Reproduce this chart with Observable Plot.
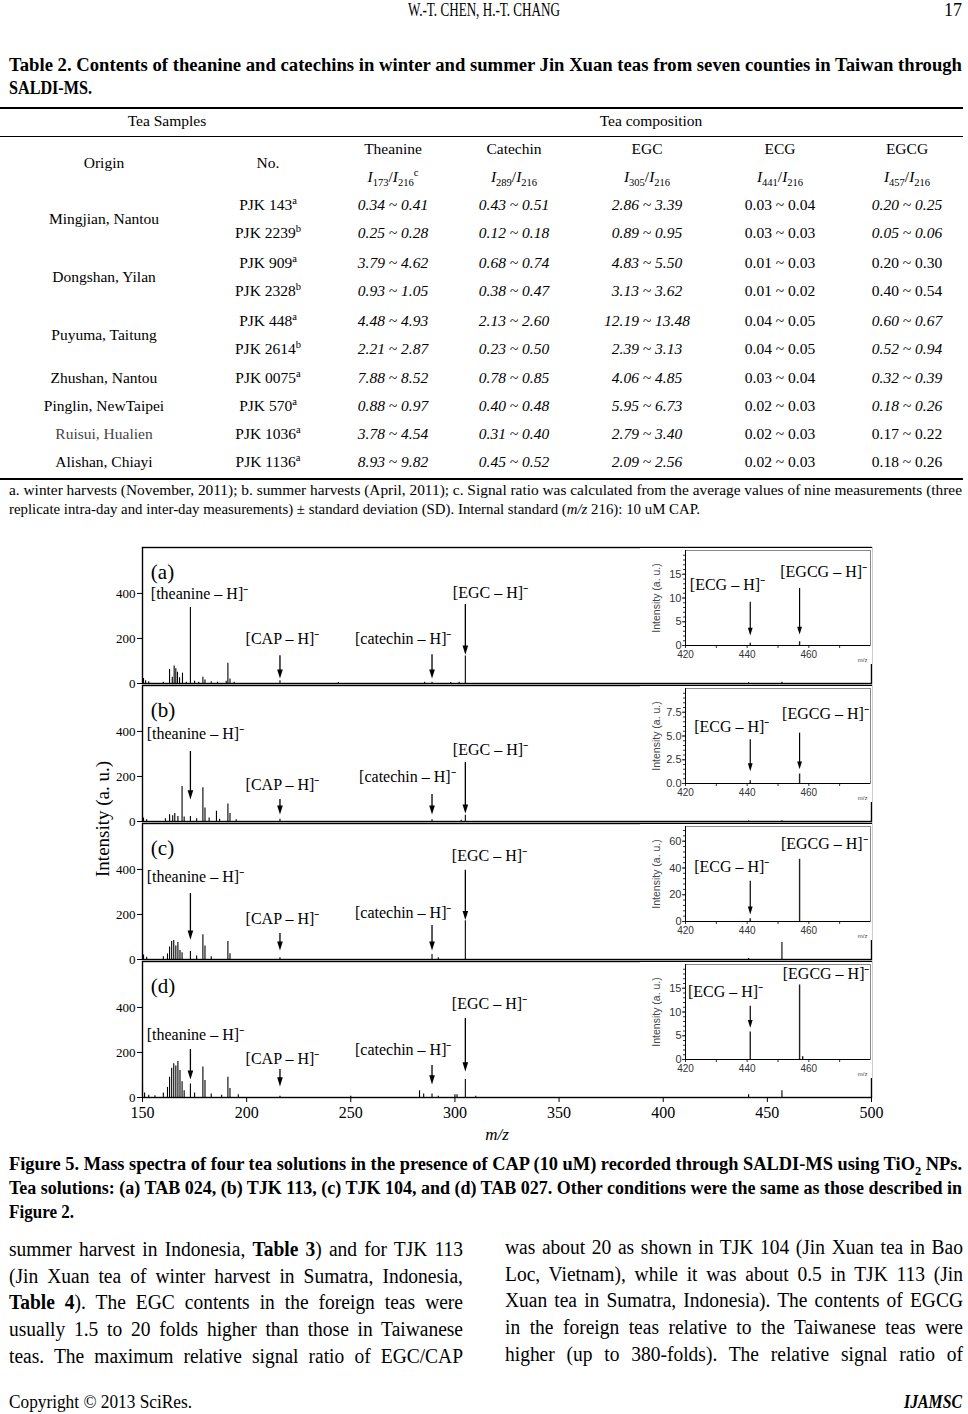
<!DOCTYPE html>
<html><head><meta charset="utf-8">
<script src="https://cdn.jsdelivr.net/npm/d3@7"></script>
<script src="https://cdn.jsdelivr.net/npm/@observablehq/plot@0.6"></script>
<style>
html,body{margin:0;padding:0;background:#fff}
body{width:968px;height:1414px;position:relative;overflow:hidden;font-family:"Liberation Serif","Times New Roman",serif;color:#000}
.t{position:absolute;white-space:nowrap}
.t sup,.t sub{line-height:0;font-size:68%}
.rule{position:absolute;background:#000;left:0;width:963px}
</style></head><body>
<script>
// ---------------- DATA ----------------
const panels = ["a", "b", "c", "d"];
// main spectra: [m/z, intensity]
const peaksA = [[150.5,22],[151.5,12],[153,8],[160,6],[163,62],[164.3,28],[165.2,78],[166,66],[166.8,50],[167.8,25],[169.2,46],[171,6],[173,338],[175,10],[177,6],[179,28],[180,16],[183,8],[186,6],[190.2,10],[191,90],[192,20],[194,6],[216,12],[244,4],[285.5,5],[289,6],[298,4],[302,5],[305,122],[441,3],[457,5]];
const peaksB = [[150.5,15],[152,8],[161,12],[163,30],[164.5,25],[165.5,35],[167,22],[169,155],[170,20],[173,22],[176,12],[179,150],[180,60],[182,15],[185.5,45],[187,10],[191,78],[192,35],[195,8],[216,10],[289,8],[303,6],[305,28],[441,2],[457,3]];
const peaksC = [[150.5,20],[152,10],[160,12],[162,25],[163,55],[164,80],[165,84],[166,60],[167,75],[168,40],[169,30],[173,35],[176,15],[179,110],[180,60],[183,12],[191,80],[192,25],[216,8],[289,22],[292,8],[305,172],[441,4],[457,75]];
const peaksD = [[150,55],[151,20],[153,10],[156,8],[160,20],[162,45],[163,90],[164,130],[165,150],[166,140],[167,160],[168,120],[169,70],[170,30],[173,60],[175,20],[179,135],[180,75],[183,15],[188,10],[191,90],[192,40],[196,12],[216,6],[250,5],[283,30],[285,15],[289,15],[292,6],[300,12],[301,12],[305,80],[310,5],[441,12],[457,30]];
// arrows: [m/z, top, tip]
const arrowsA = [[216,123,22],[289,128,22],[305,351,128]];
const arrowsB = [[173,311,98],[216,98,31],[289,120,31],[305,262,35]];
const arrowsC = [[173,293,88],[216,116,40],[289,151,40],[305,396,175]];
const arrowsD = [[173,213,80],[216,124,49],[289,142,58],[305,351,116]];
// labels: [text, m/z start, intensity]
const labelsA = [["[theanine – H]⁻",154,400],["[CAP – H]⁻",199.5,200],["[catechin – H]⁻",252,200],["[EGC – H]⁻",299,404]];
const labelsB = [["[theanine – H]⁻",152,387],["[CAP – H]⁻",199.5,164],["[catechin – H]⁻",254,196],["[EGC – H]⁻",299,316]];
const labelsC = [["[theanine – H]⁻",152,369],["[CAP – H]⁻",199.5,182],["[catechin – H]⁻",252,209],["[EGC – H]⁻",298.5,458]];
const labelsD = [["[theanine – H]⁻",152,280],["[CAP – H]⁻",199.5,173],["[catechin – H]⁻",252,213],["[EGC – H]⁻",298.5,418]];
const panelTags = ["(a)","(b)","(c)","(d)"];
const xTicks = [150,200,250,300,350,400,450,500];
const yTicks = [0,200,400];

// insets (m/z 420-480)
const insetYMax = [20, 10, 71, 20];
const insetYTicks = [[0,5,10,15],[0,2.5,5,7.5],[0,20,40,60],[0,5,10,15]];
const insetPeaksA = [[441,0.5],[457,0.8]];
const insetPeaksB = [[441,0.3],[457,1.0]];
const insetPeaksC = [[441,2],[457,46.5]];
const insetPeaksD = [[441,5.8],[457,15.7],[458,0.6]];
const insetArrowsA = [[441,9.1,2.1],[457,12,2.3]];
const insetArrowsB = [[441,4.6,1.3],[457,5.3,1.5]];
const insetArrowsC = [[441,30,5.3]];
const insetArrowsD = [[441,11.2,6.7]];
const insetLabelsA = [["[ECG – H]⁻",433.6,12.7],["[EGCG – H]⁻",464.8,15.4]];
const insetLabelsB = [["[ECG – H]⁻",435,6.0],["[EGCG – H]⁻",465.4,7.3]];
const insetLabelsC = [["[ECG – H]⁻",435,40.5],["[EGCG – H]⁻",465,58]];
const insetLabelsD = [["[ECG – H]⁻",433,14.3],["[EGCG – H]⁻",465.6,18]];
const insetXTicks = [420,440,460];

// table
const origins = ["Mingjian, Nantou","Dongshan, Yilan","Puyuma, Taitung","Zhushan, Nantou","Pinglin, NewTaipei","Ruisui, Hualien","Alishan, Chiayi"];
const originSpans = [[0,1],[2,3],[4,5],[6,6],[7,7],[8,8],[9,9]];
const sampleIds = ["PJK 143","PJK 2239","PJK 909","PJK 2328","PJK 448","PJK 2614","PJK 0075","PJK 570","PJK 1036","PJK 1136"];
const harvest = ["a","b","a","b","a","b","a","a","a","a"];
const theanine = ["0.34 ~ 0.41","0.25 ~ 0.28","3.79 ~ 4.62","0.93 ~ 1.05","4.48 ~ 4.93","2.21 ~ 2.87","7.88 ~ 8.52","0.88 ~ 0.97","3.78 ~ 4.54","8.93 ~ 9.82"];
const catechin = ["0.43 ~ 0.51","0.12 ~ 0.18","0.68 ~ 0.74","0.38 ~ 0.47","2.13 ~ 2.60","0.23 ~ 0.50","0.78 ~ 0.85","0.40 ~ 0.48","0.31 ~ 0.40","0.45 ~ 0.52"];
const egc = ["2.86 ~ 3.39","0.89 ~ 0.95","4.83 ~ 5.50","3.13 ~ 3.62","12.19 ~ 13.48","2.39 ~ 3.13","4.06 ~ 4.85","5.95 ~ 6.73","2.79 ~ 3.40","2.09 ~ 2.56"];
const ecg = ["0.03 ~ 0.04","0.03 ~ 0.03","0.01 ~ 0.03","0.01 ~ 0.02","0.04 ~ 0.05","0.04 ~ 0.05","0.03 ~ 0.04","0.02 ~ 0.03","0.02 ~ 0.03","0.02 ~ 0.03"];
const egcg = ["0.20 ~ 0.25","0.05 ~ 0.06","0.20 ~ 0.30","0.40 ~ 0.54","0.60 ~ 0.67","0.52 ~ 0.94","0.32 ~ 0.39","0.18 ~ 0.26","0.17 ~ 0.22","0.18 ~ 0.26"];
const egcgItalic = [1,1,0,0,1,1,1,1,0,0];

// ---------------- TEXT HELPERS ----------------
function put(html, o) {
  const d = document.createElement("div");
  d.className = "t";
  d.innerHTML = html;
  const size = o.size || 16;
  d.style.fontSize = size + "px";
  d.style.lineHeight = (size * 1.15) + "px";
  d.style.fontWeight = o.bold ? "bold" : "normal";
  d.style.fontStyle = o.italic ? "italic" : "normal";
  if (o.color) d.style.color = o.color;
  document.body.appendChild(d);
  const w = d.getBoundingClientRect().width;
  let sx = o.sx || 1, left = o.x;
  if (o.justify) {
    const W = o.x2 - o.x, c = o.c || 0.9;
    if (w * c > W) sx = W / w;
    else { sx = c; d.style.whiteSpace = "normal"; d.style.width = (W / c) + "px"; d.style.textAlign = "justify"; d.style.textAlignLast = "justify"; }
  } else if (o.x2 != null) {
    sx = (o.x2 - o.x) / w;
  } else if (o.anchor === "middle") {
    left = o.x - w * sx / 2;
  } else if (o.anchor === "end") {
    left = o.x - w * sx;
  }
  d.style.left = left + "px";
  d.style.top = (o.y - size * 0.62) + "px";
  d.style.transformOrigin = "0 0";
  d.style.transform = `scaleX(${sx})`;
  return d;
}
function rule(y, h) {
  const r = document.createElement("div");
  r.className = "rule"; r.style.top = y + "px"; r.style.height = h + "px";
  document.body.appendChild(r);
}

// ---------------- PAGE HEADER ----------------
put("W.-T. CHEN, H.-T. CHANG", {x: 408, x2: 560, y: 11, size: 18});
put("17", {x: 944, x2: 962, y: 11, size: 18});

// ---------------- TABLE ----------------
put("Table 2. Contents of theanine and catechins in winter and summer Jin Xuan teas from seven counties in Taiwan through", {x: 9, x2: 962, y: 66, size: 18, bold: true});
put("SALDI-MS.", {x: 9, x2: 92, y: 89, size: 18, bold: true});
rule(107, 2); rule(136, 1.2); rule(478, 2);
const colX = [104, 268, 393, 514, 647, 780, 907];
const rowY = [206, 234, 264, 292, 322, 350, 379, 407, 435, 463];
const TS = 15.5;
put("Tea Samples", {x: 167, y: 122, size: TS, anchor: "middle"});
put("Tea composition", {x: 651, y: 122, size: TS, anchor: "middle"});
put("Origin", {x: colX[0], y: 164, size: TS, anchor: "middle"});
put("No.", {x: colX[1], y: 164, size: TS, anchor: "middle"});
const compNames = ["Theanine","Catechin","EGC","ECG","EGCG"];
const compSubs = ["<i>I</i><sub>173</sub>/<i>I</i><sub>216</sub><sup>c</sup>","<i>I</i><sub>289</sub>/<i>I</i><sub>216</sub>","<i>I</i><sub>305</sub>/<i>I</i><sub>216</sub>","<i>I</i><sub>441</sub>/<i>I</i><sub>216</sub>","<i>I</i><sub>457</sub>/<i>I</i><sub>216</sub>"];
compNames.forEach((n, i) => {
  put(n, {x: colX[i + 2], y: 150, size: TS, anchor: "middle"});
  put(compSubs[i], {x: colX[i + 2], y: 178, size: TS, anchor: "middle"});
});
origins.forEach((o, i) => {
  const [r0, r1] = originSpans[i];
  put(o, {x: colX[0], y: (rowY[r0] + rowY[r1]) / 2, size: TS, anchor: "middle", color: o.startsWith("Ruisui") ? "#444" : "#000"});
});
sampleIds.forEach((s, i) => {
  put(`${s}<sup>${harvest[i]}</sup>`, {x: colX[1], y: rowY[i], size: TS, anchor: "middle"});
  put(theanine[i], {x: colX[2], y: rowY[i], size: TS, anchor: "middle", italic: true});
  put(catechin[i], {x: colX[3], y: rowY[i], size: TS, anchor: "middle", italic: true});
  put(egc[i], {x: colX[4], y: rowY[i], size: TS, anchor: "middle", italic: true});
  put(ecg[i], {x: colX[5], y: rowY[i], size: TS, anchor: "middle"});
  put(egcg[i], {x: colX[6], y: rowY[i], size: TS, anchor: "middle", italic: !!egcgItalic[i]});
});
put("a. winter harvests (November, 2011); b. summer harvests (April, 2011); c. Signal ratio was calculated from the average values of nine measurements (three", {x: 9, x2: 962, y: 491, size: 14.5});
put("replicate intra-day and inter-day measurements) ± standard deviation (SD). Internal standard (<i>m/z</i> 216): 10 uM CAP.", {x: 9, x2: 700, y: 510, size: 14.5});

// ---------------- MAIN FIGURE ----------------
const lists = {a: [peaksA, arrowsA, labelsA], b: [peaksB, arrowsB, labelsB], c: [peaksC, arrowsC, labelsC], d: [peaksD, arrowsD, labelsD]};
const peakRows = [], arrowRows = [], labelRows = [], tagRows = [];
panels.forEach((p, i) => {
  const [pk, ar, lb] = lists[p];
  pk.forEach(([mz, v]) => peakRows.push({panel: p, mz, v}));
  ar.forEach(([mz, top, tip]) => arrowRows.push({panel: p, mz, top, tip, shaftEnd: tip + 18}));
  lb.forEach(([text, mz, v]) => labelRows.push({panel: p, text, mz, v}));
  tagRows.push({panel: p, text: panelTags[i], mz: 154, v: 492});
});
const headSym = {draw(ctx, size) { const r = Math.sqrt(size / Math.PI); ctx.moveTo(0, 0); ctx.lineTo(-0.8 * r, -2.6 * r); ctx.lineTo(0.8 * r, -2.6 * r); ctx.closePath(); }};

const SVG_TOP = 530, MT = 17;
const main = Plot.plot({
  width: 968, height: 597,
  marginTop: MT, marginLeft: 142, marginRight: 97, marginBottom: 30,
  style: {fontFamily: "'Liberation Serif', serif", fontSize: "13px", color: "#000", background: "transparent", overflow: "visible"},
  x: {domain: [150, 500]},
  y: {domain: [0, 604]},
  fy: {domain: panels, paddingInner: 0.015, paddingOuter: 0, axis: null, label: null},
  marks: [
    Plot.ruleX(peakRows, {x: "mz", y1: 0, y2: "v", fy: "panel", stroke: "#000", strokeWidth: 1.1}),
    Plot.ruleX(arrowRows, {x: "mz", y1: "top", y2: "shaftEnd", fy: "panel", stroke: "#000", strokeWidth: 1.3}),
    Plot.dot(arrowRows, {x: "mz", y: "tip", fy: "panel", symbol: headSym, r: 3.5, fill: "#000", stroke: "none"}),
    Plot.text(labelRows, {x: "mz", y: "v", text: "text", fy: "panel", textAnchor: "start", fontSize: 16, fill: "#000"}),
    Plot.text(tagRows, {x: "mz", y: "v", text: "text", fy: "panel", textAnchor: "start", fontSize: 21, fill: "#000"}),
    Plot.axisY({ticks: yTicks, tickSize: 5, tickPadding: 2, fontSize: 13, label: null}),
    Plot.axisX({ticks: xTicks, tickSize: 5, tickPadding: 4, fontSize: 16, label: null}),
    Plot.frame({stroke: "#000", strokeWidth: 1.4})
  ]
});
main.style.position = "absolute"; main.style.left = "0px"; main.style.top = SVG_TOP + "px";
document.body.appendChild(main);

const yl = put("Intensity (a. u.)", {x: 103, y: 820, size: 19, anchor: "middle"});
yl.style.transformOrigin = "50% 50%";
yl.style.transform = "rotate(-90deg)";
put("m/z", {x: 497, y: 1136, size: 17, italic: true, anchor: "middle"});

// ---------------- INSETS ----------------
const insetLists = [[insetPeaksA, insetArrowsA, insetLabelsA],[insetPeaksB, insetArrowsB, insetLabelsB],[insetPeaksC, insetArrowsC, insetLabelsC],[insetPeaksD, insetArrowsD, insetLabelsD]];
const step = 550 / (4 - 0.015);
panels.forEach((p, i) => {
  const panelTop = SVG_TOP + MT + i * step;
  const [pk, ar, lb] = insetLists[i];
  const yMax = insetYMax[i];
  const yt = insetYTicks[i];
  const fmt = i === 1 ? (d => d.toFixed(1)) : (d => String(d));
  const minorY = d3.range(0, yMax, yt[1] / 5);
  const arr = ar.map(([mz, top, tip]) => ({mz, top, tip, shaftEnd: tip + yMax * 0.06}));
  const ins = Plot.plot({
    width: 232, height: 116, marginLeft: 45, marginRight: 2, marginTop: 2, marginBottom: 19,
    style: {fontFamily: "'Liberation Sans', Arial, sans-serif", fontSize: "11px", color: "#333", background: "#fff"},
    x: {domain: [420, 480]},
    y: {domain: [0, yMax]},
    marks: [
      Plot.frame({stroke: "#888", strokeWidth: 1}),
      Plot.ruleX(pk, {x: d => d[0], y1: 0, y2: d => d[1], stroke: "#222", strokeWidth: 1.4}),
      Plot.ruleX(arr, {x: "mz", y1: "top", y2: "shaftEnd", stroke: "#000", strokeWidth: 1.2}),
      Plot.dot(arr, {x: "mz", y: "tip", symbol: headSym, r: 3.0, fill: "#000", stroke: "none"}),
      Plot.text(lb, {x: d => d[1], y: d => d[2], text: d => d[0], textAnchor: "middle", fontSize: 16, fontFamily: "'Liberation Serif', serif", fill: "#000"}),
      Plot.axisX({ticks: insetXTicks, tickSize: 3, tickPadding: 2, fontSize: 10, label: null}),
      Plot.axisX({ticks: [430, 450, 470], tickSize: 3, tickFormat: () => "", label: null}),
      Plot.axisY({ticks: yt, tickFormat: fmt, tickSize: 3, tickPadding: 1, fontSize: 11, label: null}),
      Plot.axisY({ticks: minorY, tickSize: 2, tickFormat: () => "", label: null}),
      Plot.ruleY([0], {stroke: "#000", strokeWidth: 1}),
      Plot.ruleX([420], {stroke: "#000", strokeWidth: 1}),
      Plot.text(["Intensity (a. u.)"], {frameAnchor: "left", textAnchor: "middle", rotate: -90, dx: -29, fontSize: 10.5, fill: "#444"}),
      Plot.text(["m/z"], {frameAnchor: "bottom-right", textAnchor: "end", dx: -3, dy: 16, fontSize: 6, fill: "#444"})
    ]
  });
  ins.style.position = "absolute"; ins.style.left = "640px"; ins.style.top = (panelTop + 1) + "px";
  document.body.appendChild(ins);
});

// ---------------- FIGURE CAPTION ----------------
put("Figure 5. Mass spectra of four tea solutions in the presence of CAP (10 uM) recorded through SALDI-MS using TiO<sub>2</sub> NPs.", {x: 9, x2: 962, y: 1165, size: 18, bold: true});
put("Tea solutions: (a) TAB 024, (b) TJK 113, (c) TJK 104, and (d) TAB 027. Other conditions were the same as those described in", {x: 9, x2: 962, y: 1189, size: 18, bold: true});
put("Figure 2.", {x: 9, x2: 74, y: 1213, size: 18, bold: true});

// ---------------- BODY TEXT ----------------
const leftCol = ["summer harvest in Indonesia, <b>Table 3</b>) and for TJK 113","(Jin Xuan tea of winter harvest in Sumatra, Indonesia,","<b>Table 4</b>). The EGC contents in the foreign teas were","usually 1.5 to 20 folds higher than those in Taiwanese","teas. The maximum relative signal ratio of EGC/CAP"];
const rightCol = ["was about 20 as shown in TJK 104 (Jin Xuan tea in Bao","Loc, Vietnam), while it was about 0.5 in TJK 113 (Jin","Xuan tea in Sumatra, Indonesia). The contents of EGCG","in the foreign teas relative to the Taiwanese teas were","higher (up to 380-folds). The relative signal ratio of"];
leftCol.forEach((l, i) => put(l, {x: 9, x2: 463, y: 1251 + i * 26.6, size: 20.5, justify: true, c: 0.95}));
rightCol.forEach((l, i) => put(l, {x: 505, x2: 963, y: 1249 + i * 26.6, size: 20.5, justify: true, c: 0.95}));

// ---------------- FOOTER ----------------
put("Copyright © 2013 SciRes.", {x: 9, x2: 192, y: 1403, size: 18});
put("IJAMSC", {x: 904, x2: 962, y: 1403, size: 18, bold: true, italic: true});
</script>
</body></html>
